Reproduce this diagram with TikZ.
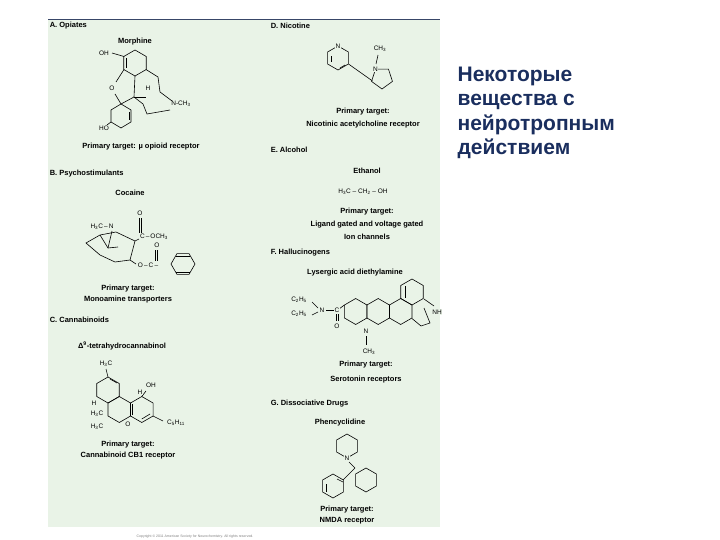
\documentclass[tikz,border=0pt]{standalone}
\usepackage{fontspec}
\setmainfont{Liberation Sans}
\definecolor{panel}{HTML}{E9F3E7}
\definecolor{ru}{HTML}{1A2E5E}
\newcommand\hexr[4]{\draw[shift={(#1,#2)}] (#4:#3) -- (#4+60:#3) -- (#4+120:#3) -- (#4+180:#3) -- (#4+240:#3) -- (#4+300:#3) -- cycle;}
\newcommand\penr[4]{\draw[shift={(#1,#2)}] (#4:#3) -- (#4+72:#3) -- (#4+144:#3) -- (#4+216:#3) -- (#4+288:#3) -- cycle;}
\newcommand\sub[1]{\textsubscript{#1}}
\begin{document}
\begin{tikzpicture}[x=1pt,y=-1pt,line width=0.6pt,
  lab/.style={font=\fontsize{7.5}{8.5}\selectfont\bfseries,inner sep=0.5pt},
  hd/.style={lab,anchor=west},
  atm/.style={font=\fontsize{6.5}{7}\selectfont,inner sep=0.5pt,fill=panel}]
\useasboundingbox (0,0) rectangle (720,540);
\fill[white] (0,0) rectangle (720,540);
\fill[panel] (48,19) rectangle (440,527);
\draw[ru!70!gray,line width=0.8pt] (48,19) -- (440,19);
% headings
\node[hd] (ha) at (49,26) {A. Opiates};
\node[hd] (hb) at (49,174) {B. Psychostimulants};
\node[hd] (hc) at (49,320) {C. Cannabinoids};
\node[hd] (hd) at (270,26) {D. Nicotine};
\node[hd] (he) at (270,150) {E. Alcohol};
\node[hd] (hf) at (270,253) {F. Hallucinogens};
\node[hd] (hg) at (270,404) {G. Dissociative Drugs};
% A morphine
\node[lab] (mor) at (135,42) {Morphine};
\hexr{135}{63}{13}{30}
\draw (126,58) -- (126,68);
\draw (124,56.5) -- (112,53);
\node[atm] (oh1) at (104,53) {OH};
\draw (124,69.5) -- (116,82);
\node[atm] (o1) at (112,88) {O};
\draw (115,94) -- (121,104) -- (134,97) -- (135,76);
\draw (146,69.5) -- (158,77) -- (160,92) -- (172,101);
\node[atm] (n1) at (181,104) {N-CH\sub{3}};
\draw (134,97) -- (143,104) -- (147,114) -- (170,110);
\draw (134,97) -- (146,97);
\node[atm] (h1) at (148,88) {H};
\draw (121,104) -- (131,110) -- (131,122) -- (121,128) -- (111,122) -- (111,110) -- cycle;
\draw (129,112) -- (129,120);
\draw (111,122) -- (107,125);
\node[atm] (ho1) at (104,128) {HO};
\node[lab] (ta) at (141,147) {Primary target: \textmu\ opioid receptor};
% B cocaine
\node[lab] (coc) at (130,193) {Cocaine};
\node[atm] (cn) at (102,227) {H\sub{3}C\,–\,N};
\draw (112,231) -- (108,248);
\draw (86,243) -- (100,235) -- (116,232) -- (135,241) -- (130,260) -- (115,262) -- (100,255) -- cycle;
\draw (100,235) -- (108,248) -- (118,247);
\draw (135,241) -- (139,239);
\node[atm] (cc) at (154,237) {C\,–\,OCH\sub{3}};
\draw (139.5,218) -- (139.5,233);\draw (141.5,218) -- (141.5,233);
\node[atm] (co1) at (140,213) {O};
\draw (130,260) -- (136,264);
\node[atm] (oc) at (148,265) {O\,–\,C\,–};
\draw (155.5,250) -- (155.5,261);\draw (157.5,250) -- (157.5,261);
\node[atm] (co2) at (157,245) {O};
\hexr{183}{264}{12}{0}
\draw (176,256) -- (190,256);
\draw (176,272) -- (190,272);
\node[lab] (tb1) at (128,289) {Primary target:};
\node[lab] (tb2) at (128,300) {Monoamine transporters};
% C THC
\node[lab] (thcl) at (122,346) {Δ\textsuperscript{9}-tetrahydrocannabinol};
\hexr{108}{390}{13}{30}
\draw (108,377) -- (106,369);
\node[atm] (h3c) at (106,364) {H\sub{3}C};
\draw (110,379) -- (117,383);
\hexr{119.3}{409.5}{13}{30}
\hexr{141.8}{409.5}{13}{30}
\draw (132,404) -- (132,415);\draw (141.8,419) -- (150,414);
\draw (141.8,396.5) -- (146,391);
\node[atm] (ohc) at (151,385) {OH};
\node[atm] (hc1) at (140,392) {H};
\node[atm] (hc2) at (94,403) {H};
\node[atm] (c1) at (97,414) {H\sub{3}C};
\node[atm] (c2) at (97,427) {H\sub{3}C};
\node[atm] (oth) at (128,424) {O};
\draw (153,416) -- (163,421);
\node[atm] (c5) at (176,423) {C\sub{5}H\sub{11}};
\node[lab] (tc1) at (128,445) {Primary target:};
\node[lab] (tc2) at (128,456) {Cannabinoid CB1 receptor};
% D nicotine
\hexr{338}{58}{12}{30}
\draw (331,62) -- (331,56);\draw (340,68) -- (345,65);
\node[atm] (npy) at (338,46) {N};
\penr{382}{78}{11}{234}
\node[atm] (nnic) at (375.5,69) {N};
\draw (348.5,64) -- (372.5,81);
\draw (376,64) -- (378,55);
\node[atm] (ch3n) at (380,49) {CH\sub{3}};
\node[lab] (td1) at (363,112) {Primary target:};
\node[lab] (td2) at (363,125) {Nicotinic acetylcholine receptor};
% E
\node[lab] (eth) at (367,171) {Ethanol};
\node[font=\fontsize{6.5}{7}\selectfont] (ef) at (363,192) {H\sub{3}C – CH\sub{2} – OH};
\node[lab] (te1) at (367,212) {Primary target:};
\node[lab] (te2) at (367,225) {Ligand gated and voltage gated};
\node[lab] (te3) at (367,237) {Ion channels};
% F LSD
\node[lab] (lsd) at (355,273) {Lysergic acid diethylamine};
\hexr{412}{292}{13}{30}
\hexr{400.7}{311.5}{13}{30}
\hexr{378.2}{311.5}{13}{30}
\hexr{355.7}{311.5}{13}{30}
\draw (405,286) -- (405,298);
\draw (424,308) -- (430,323) -- (421,326) -- (412,318.5);
\draw (424,299) -- (434,306);
\node[atm] (nh) at (437,312) {NH};
\node[atm] (nl) at (366,331) {N};
\draw (366,336) -- (366,345);
\node[atm] (ch3l) at (369,352) {CH\sub{3}};
\draw (344.4,305) -- (339,309);
\node[atm] (cam) at (337,310) {C};
\draw (336,314) -- (336,321);\draw (338,314) -- (338,321);
\node[atm] (oam) at (337,326) {O};
\node[atm] (nam) at (322,310) {N};
\draw (326,310) -- (334,310);
\draw (318,308) -- (312,302);\draw (318,312) -- (312,315);
\node[atm] (e1) at (299,300) {C\sub{2}H\sub{5}};
\node[atm] (e2) at (299,314) {C\sub{2}H\sub{5}};
\node[lab] (tf1) at (366,365) {Primary target:};
\node[lab] (tf2) at (366,380) {Serotonin receptors};
% G PCP
\node[lab] (pcp) at (340,423) {Phencyclidine};
\hexr{347}{446}{12}{30}
\node[atm] (np) at (347,458) {N};
\draw (349,462) -- (355,468);
\hexr{366}{480}{12}{30}
\hexr{333}{486}{12}{30}
\draw (337,479) -- (343,482);
\draw (326,484) -- (326,492);
\draw (355,468) -- (343,480);
\node[lab] (tg1) at (347,510) {Primary target:};
\node[lab] (tg2) at (347,521) {NMDA receptor};
\node[font=\fontsize{3.5}{4}\selectfont,text=gray] (copy) at (195,537) {Copyright © 2011 American Society for Neurochemistry. All rights reserved.};
% Russian
\node[anchor=west,font=\fontsize{21}{24}\selectfont\bfseries,text=ru,align=left] (ttl) at (454,113) {Некоторые\\[0.5pt]вещества с\\[0.5pt]нейротропным\\[0.5pt]действием};
\end{tikzpicture}
\end{document}
